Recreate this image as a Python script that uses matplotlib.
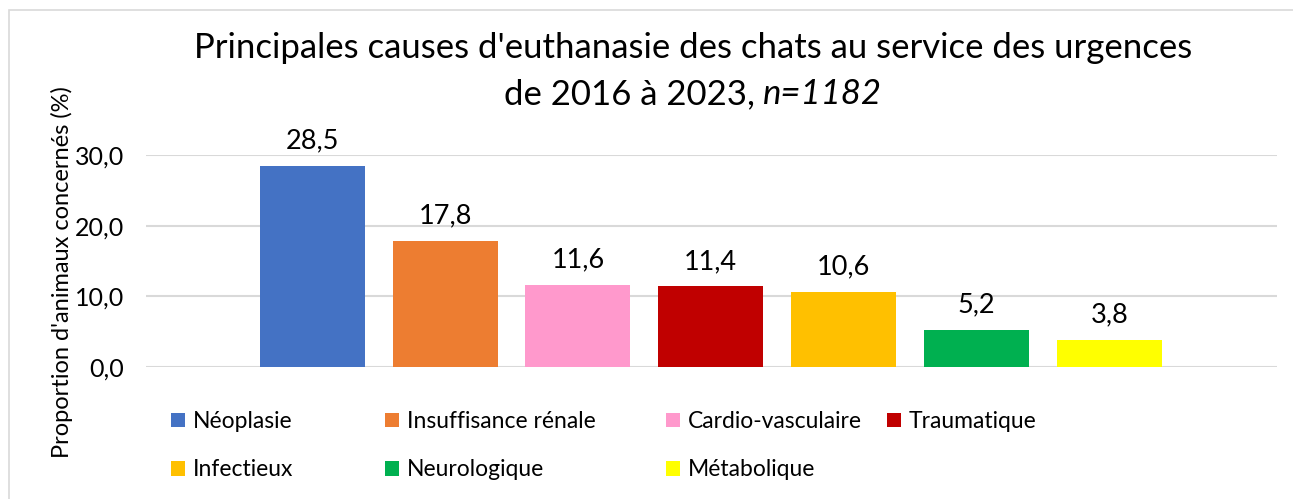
import numpy as np
import matplotlib
matplotlib.use("Agg")
import matplotlib.pyplot as plt
from matplotlib.patches import Rectangle, Patch

# ------------------------------
# Data
# ------------------------------
causes = ["Néoplasie", "Insuffisance rénale", "Cardio-vasculaire", "Traumatique",
          "Infectieux", "Neurologique", "Métabolique"]
proportions = [28.5, 17.8, 11.6, 11.4, 10.6, 5.2, 3.8]
colors = ["#4472C4", "#ED7D31", "#FF99CC", "#C00000", "#FFC000", "#00B050", "#FFFF00"]
yticks = [0, 10, 20, 30]

plt.rcParams["font.family"] = ["Lato", "DejaVu Sans"]

W, H = 1293, 499
fig = plt.figure(figsize=(W / 100, H / 100), dpi=100)

# light border around the chart area (runs off the right / bottom edge)
fig.patches.append(Rectangle((9 / W, -0.2), 1.2, 1.2 - 10 / H,
                             transform=fig.transFigure, fill=False,
                             edgecolor="#D9D9D9", linewidth=1.2))

ax = fig.add_axes([146 / W, 1 - 367 / H, (1277 - 146) / W, (367 - 155) / H])
x = np.arange(len(causes))
bars = ax.bar(x, proportions, width=0.79, color=colors, zorder=3)

for b, v in zip(bars, proportions):
    ax.annotate(f"{v:.1f}".replace(".", ","), (b.get_x() + b.get_width() / 2, v),
                xytext=(0, 9), textcoords="offset points", ha="center", va="bottom",
                fontsize=19.5, color="black", annotation_clip=False)

ax.set_xlim(-1.25, 7.26)
ax.set_ylim(0, 30)
ax.set_yticks(yticks)
ax.set_yticklabels([f"{t:.1f}".replace(".", ",") for t in yticks], fontsize=18)
ax.tick_params(axis="y", length=0, pad=16)
ax.set_xticks([])
ax.grid(axis="y", color="#D9D9D9", linewidth=1.5, zorder=0)
for s in ax.spines.values():
    s.set_visible(False)

fig.text(62 / W, 1 - 272 / H, "Proportion d'animaux concernés (%)", rotation=90,
         ha="center", va="center", fontsize=17)

# title, second line partly in italics
fig.text(693 / W, 1 - 48 / H,
         "Principales causes d'euthanasie des chats au service des urgences",
         ha="center", va="center", fontsize=25)
fig.canvas.draw()
r = fig.canvas.get_renderer()
t1 = fig.text(0, 1 - 94 / H, "de 2016 à 2023, ", ha="left", va="center", fontsize=25)
t2 = fig.text(0, 1 - 94 / H, "n=1182", ha="left", va="center", fontsize=25, style="italic")
w1 = t1.get_window_extent(r).width
w2 = t2.get_window_extent(r).width
x0 = 693 - (w1 + w2) / 2
t1.set_x(x0 / W)
t2.set_x((x0 + w1) / W)

# legend: one column per legend so the column starts match the original
handles = [Patch(facecolor=c, edgecolor="none") for c in colors]
col_x = [171, 385, 666, 887]
for j, cx in enumerate(col_x):
    idx = [i for i in (j, j + 4) if i < len(causes)]
    fig.legend([handles[i] for i in idx], [causes[i] for i in idx],
               loc="upper left", bbox_to_anchor=(cx / W, 1 - 411 / H),
               frameon=False, fontsize=16.5, handlelength=0.62, handleheight=0.62,
               handletextpad=0.32, labelspacing=1.2, borderpad=0, borderaxespad=0)

fig.savefig("out.png", dpi=100)
